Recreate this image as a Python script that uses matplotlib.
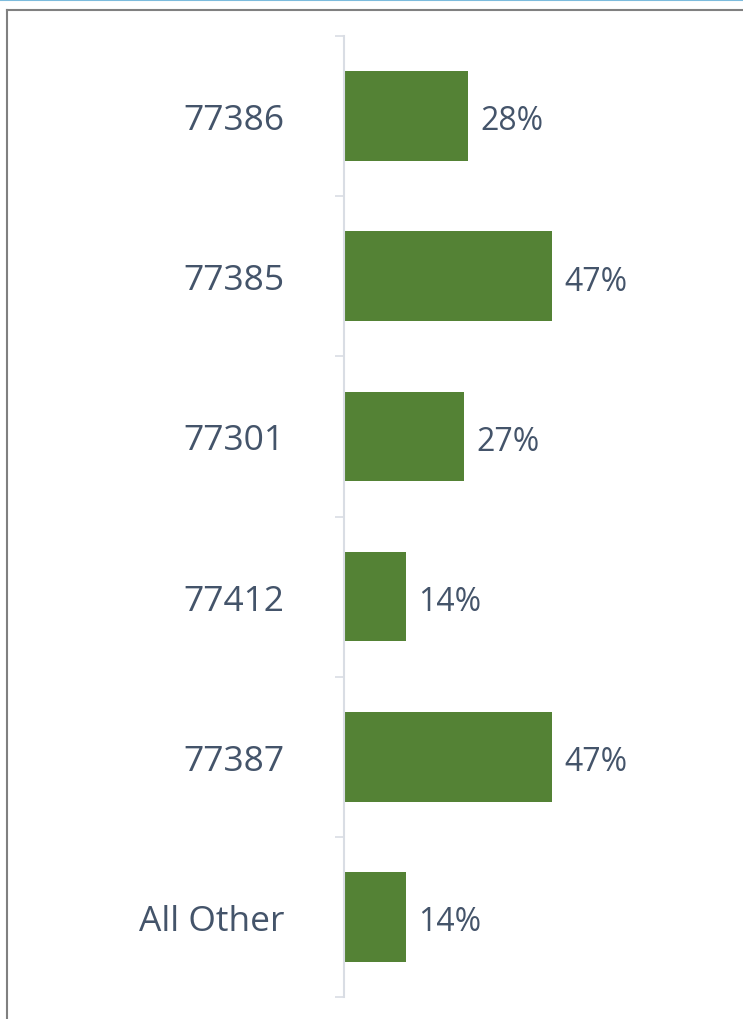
import matplotlib
matplotlib.use("Agg")
import matplotlib.pyplot as plt
from matplotlib.lines import Line2D

categories = ["77386", "77385", "77301", "77412", "77387", "All Other"]
shares = [28, 47, 27, 14, 47, 14]
share_labels = ["28%", "47%", "27%", "14%", "47%", "14%"]

bar_color = "#548235"
text_color = "#44546A"
axis_color = "#D9DDE4"

plt.rcParams["font.family"] = ["Open Sans", "DejaVu Sans"]

fig = plt.figure(figsize=(7.43, 10.2), dpi=100)
ax = fig.add_axes([344 / 743, 1 - 998 / 1020, 1 - 344 / 743, (998 - 37) / 1020])

positions = list(range(len(categories)))
bars = ax.barh(positions, shares, height=0.56, color=bar_color)
labels = ax.bar_label(bars, labels=share_labels, padding=9, fontsize=23, color=text_color)
for t in labels:
    # nudge the value labels down a little, as in the source
    t.xyann = (t.xyann[0], t.xyann[1] - 3.5)

ax.set_xlim(0, 90)
ax.set_ylim(len(categories) - 0.5, -0.5)

ax.set_yticks(positions)
ax.set_yticklabels(categories, fontsize=25.5, color=text_color)
ax.tick_params(axis="y", which="major", length=0, pad=43)
ax.set_yticks([p - 0.5 for p in positions] + [len(categories) - 0.5], minor=True)
ax.tick_params(axis="y", which="minor", length=6.5, width=1.2, color=axis_color)
ax.set_xticks([])

for side in ["top", "right", "bottom"]:
    ax.spines[side].set_visible(False)
ax.spines["left"].set_color(axis_color)
ax.spines["left"].set_linewidth(1.5)

# frame around the chart, as in the source screenshot
fig.add_artist(Line2D([0, 1], [1 - 1 / 1020, 1 - 1 / 1020], color="#7DBCDD", linewidth=1.5))
fig.add_artist(Line2D([7.5 / 743, 1], [1 - 11 / 1020, 1 - 11 / 1020], color="#808080", linewidth=1.5))
fig.add_artist(Line2D([7.5 / 743, 7.5 / 743], [0, 1 - 11 / 1020], color="#808080", linewidth=1.5))

fig.savefig("out.png", dpi=100)
